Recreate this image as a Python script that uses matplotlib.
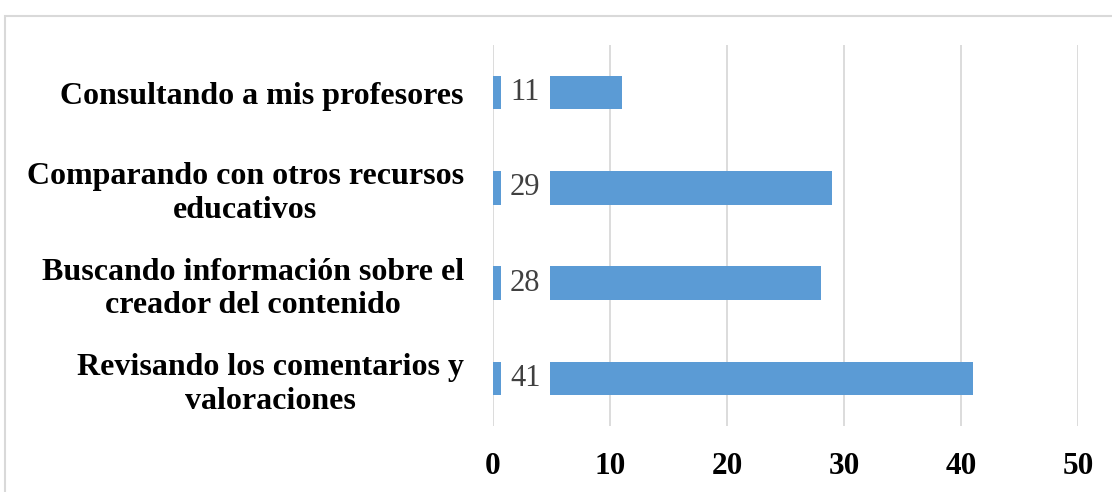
import matplotlib.pyplot as plt
from matplotlib.patches import Rectangle

# data (bottom to top as drawn)
categories = [
    "Revisando los comentarios y\nvaloraciones",
    "Buscando información sobre el\ncreador del contenido",
    "Comparando con otros recursos\neducativos",
    "Consultando a mis profesores",
]
values = [41, 28, 29, 11]
xticks = [0, 10, 20, 30, 40, 50]

bar_color = "#5b9bd5"
grid_color = "#d9d9d9"
serif = ["Liberation Serif", "DejaVu Serif"]

fig = plt.figure(figsize=(11.12, 4.92), dpi=100)
ax = fig.add_axes([493 / 1112, 1 - 426 / 492, 585 / 1112, 381 / 492])

y = list(range(len(categories)))
bar_h = 0.35
ax.barh(y, values, height=bar_h, color=bar_color, zorder=2)

# data labels sit at the bar base on a white box
lab_left, lab_right = 0.68, 4.83
for yi, v in zip(y, values):
    ax.barh(yi, lab_right - lab_left, left=lab_left, height=bar_h + 0.02,
            color="white", zorder=3)
    ax.text((lab_left + lab_right) / 2, yi, str(v), ha="center", va="center",
            fontsize=22, color="#404040", family=serif, zorder=4)

ax.set_xlim(0, 50)
ax.set_ylim(-0.5, len(categories) - 0.5)
ax.set_xticks(xticks)
ax.set_xticklabels([str(t) for t in xticks], fontsize=22.5, fontweight="bold",
                   family=serif)
ax.set_yticks(y)
ax.set_yticklabels(categories, fontsize=23, fontweight="bold", family=serif,
                   multialignment="center", linespacing=1.22)
ax.tick_params(axis="x", length=0, pad=19)
ax.tick_params(axis="y", length=0, pad=21)
ax.grid(axis="x", color=grid_color, linewidth=1.3, zorder=0)
ax.set_axisbelow(True)
for s in ax.spines.values():
    s.set_visible(False)

# chart area border
fig.patches.append(Rectangle((5 / 1112, -0.1), 1.2, 1 - 16 / 492 + 0.1,
                             transform=fig.transFigure, fill=False,
                             edgecolor=grid_color, linewidth=1.5))

fig.savefig("out.png", dpi=100)
